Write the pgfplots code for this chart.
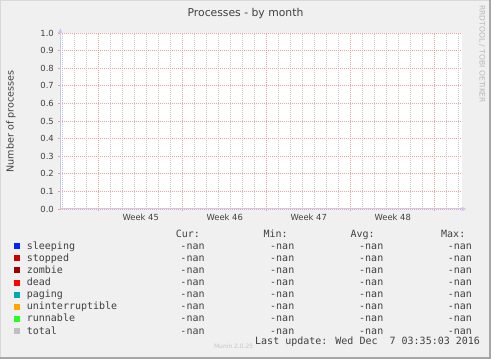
\documentclass[border=0pt]{standalone}
\usepackage{pgfplots}
\pgfplotsset{compat=1.18}
\usetikzlibrary{arrows.meta}
\usepackage{fontspec}
\setmainfont{DejaVu Sans}
\newfontfamily\mono{DejaVu Sans Mono}
\definecolor{bg}{HTML}{F0F0F0}
\definecolor{txt}{HTML}{404040}
\definecolor{axiscol}{HTML}{C8C8F0}
\definecolor{gridred}{HTML}{F0A0A0}
\definecolor{gridgray}{HTML}{C8C8C8}
\definecolor{c1}{HTML}{0022FF}
\definecolor{c2}{HTML}{CC0000}
\definecolor{c3}{HTML}{990000}
\definecolor{c4}{HTML}{FF0000}
\definecolor{c5}{HTML}{00AAAA}
\definecolor{c6}{HTML}{FFA500}
\definecolor{c7}{HTML}{22FF22}
\definecolor{c8}{HTML}{C0C0C0}
\begin{document}
\begin{tikzpicture}
\useasboundingbox (0,0) rectangle (491bp,359bp);
\begin{scope}[x=1bp,y=1bp]
\fill[bg] (0,0) rectangle (491,359);
\fill[gray!30] (0,0) rectangle (1,359);
\fill[gray!30] (0,358) rectangle (491,359);
\fill[gray!70] (489,0) rectangle (491,359);
\fill[gray!70] (0,0) rectangle (491,2.5);
\end{scope}
\begin{axis}[
  at={(60.3bp,150bp)}, anchor=south west,
  scale only axis, width=401.4bp, height=176bp,
  xmin=-3.2, xmax=30.25, ymin=0, ymax=1,
  axis background/.style={fill=white},
  axis lines=left,
  axis line style={draw=axiscol, line width=1bp, -{Latex[length=5bp,width=5bp]}, shorten >=-5bp},
  xtick={0,7,14,21,28}, xticklabels={},
  minor xtick={-3,-2,...,30},
  ytick={0,0.1,0.2,0.3,0.4,0.5,0.6,0.7,0.8,0.9,1.0},
  grid=both,
  major grid style={draw=gridred, dash pattern=on 1bp off 1bp, line width=0.8bp},
  minor grid style={draw=gridgray, dash pattern=on 1bp off 1bp, line width=0.8bp},
  tick align=outside,
  major tick length=2bp, minor tick length=0pt,
  tick style={draw=gridred, line width=0.8bp},
  /pgf/number format/assume math mode=true,
  ticklabel style={font=\fontsize{8.4bp}{10bp}\selectfont, text=txt},
  yticklabel style={xshift=-1bp, /pgf/number format/fixed, /pgf/number format/fixed zerofill, /pgf/number format/precision=1},
  extra x ticks={3.5,10.5,17.5,24.5},
  extra x tick labels={Week 45,Week 46,Week 47,Week 48},
  extra x tick style={grid=none, major tick length=0pt, xticklabel style={yshift=-1.5bp}},
]
\end{axis}
\begin{scope}[x=1bp,y=1bp]
\node[anchor=base, inner sep=0, text=txt, font=\fontsize{10.8bp}{13bp}\selectfont] at (245.5,{359-16}) {Processes - by month};
\node[rotate=90, anchor=center, inner sep=0, text=txt, font=\fontsize{9.6bp}{12bp}\selectfont] at (11,{359-121.5}) {Number of processes};
\node[rotate=-90, anchor=north west, inner sep=0, text=gray!55, font=\fontsize{7.6bp}{9bp}\selectfont] at (485.5,{359-5}) {RRDTOOL / TOBI OETIKER};
\foreach \x/\h in {175.7/Cur:, 263.3/Min:, 350.3/Avg:, 441/Max:} {
  \node[anchor=base west, inner sep=0, text=txt, font=\mono\fontsize{10bp}{12bp}\selectfont] at (\x,{359-237}) {\h};
}
\foreach \n/\c [count=\i from 0] in {sleeping/c1, stopped/c2, zombie/c3, dead/c4, paging/c5, uninterruptible/c6, runnable/c7, total/c8} {
  \pgfmathsetmacro\yb{359-249.3-12.1*\i}
  \fill[\c] (14,\yb) rectangle ++(6,6);
  \node[anchor=base west, inner sep=0, text=txt, font=\mono\fontsize{10bp}{12bp}\selectfont] at (26.7,\yb) {\n};
  \foreach \x in {180.3,270,359,447.7} {
    \node[anchor=base west, inner sep=0, text=txt, font=\mono\fontsize{10bp}{12bp}\selectfont] at (\x,\yb) {-nan};
  }
}
\node[anchor=base east, inner sep=0, text=gray!45, font=\fontsize{6bp}{7bp}\selectfont] at (253.5,{359-348}) {Munin 2.0.25};
\node[anchor=base west, inner sep=0, text=txt, font=\mono\fontsize{10bp}{12bp}\selectfont] at (255,{359-344}) {Last update: Wed Dec~~7 03:35:03 2016};
\end{scope}
\end{tikzpicture}
\end{document}
